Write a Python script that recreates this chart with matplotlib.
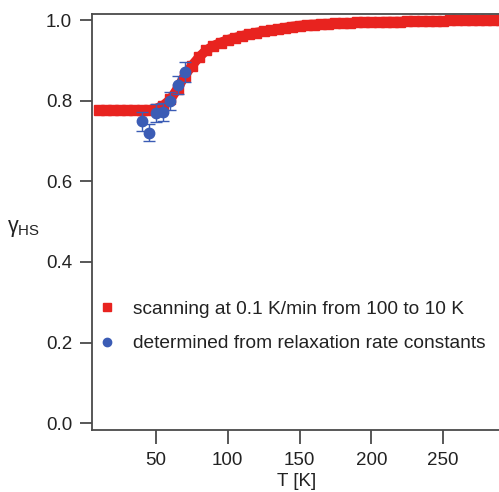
"""Spin-crossover HS fraction vs temperature: scan vs relaxation constants."""

import matplotlib

matplotlib.use("Agg")
import matplotlib.pyplot as plt
from matplotlib.ticker import FormatStrFormatter

plt.rcParams["font.family"] = ["Liberation Sans", "DejaVu Sans"]
plt.rcParams["mathtext.fontset"] = "custom"
plt.rcParams["mathtext.rm"] = "Liberation Sans"

# scanning at 0.1 K/min (every 5 K)
scan_temp = list(range(10, 295, 5))
scan_gamma = [
    0.776, 0.776, 0.776, 0.776, 0.776, 0.776, 0.776, 0.777, 0.780, 0.788,
    0.803, 0.830, 0.862, 0.887, 0.908, 0.925, 0.936, 0.944, 0.951, 0.956,
    0.961, 0.965, 0.969, 0.972, 0.975, 0.978, 0.981, 0.984, 0.986, 0.988,
    0.989, 0.990, 0.991, 0.992, 0.993, 0.993, 0.994, 0.994, 0.995, 0.995,
    0.996, 0.996, 0.996, 0.997, 0.997, 0.997, 0.998, 0.998, 0.998, 0.999,
    0.999, 0.999, 1.000, 1.000, 1.000, 1.000, 1.000,
]

# values from relaxation rate constants
relax_temp = [40, 45, 50, 55, 60, 65, 70]
relax_gamma = [0.749, 0.720, 0.770, 0.772, 0.800, 0.839, 0.871]
relax_err = [0.023, 0.021, 0.022, 0.022, 0.022, 0.023, 0.025]

red = "#e8231f"
blue = "#3b5cb5"
spine = "#4a4a4a"
ink = "#222222"

fig = plt.figure(figsize=(4.99, 4.92), dpi=100)
ax = fig.add_axes([0.184, 0.126, 0.822, 0.8455])

ax.plot(scan_temp, scan_gamma, color=red, lw=7, marker="s", ms=7.5,
        mec=red, mfc=red, solid_capstyle="butt", zorder=2,
        label="scanning at 0.1 K/min from 100 to 10 K")
ax.errorbar(relax_temp, relax_gamma, yerr=relax_err, fmt="o", color=blue,
            ms=7.5, elinewidth=1.0, capsize=4.5, capthick=1.0, zorder=3,
            label="determined from relaxation rate constants")

ax.set_xlim(5.3, 291)
ax.set_ylim(-0.017, 1.015)
ax.set_xticks([50, 100, 150, 200, 250])
ax.set_yticks([0.0, 0.2, 0.4, 0.6, 0.8, 1.0])
ax.yaxis.set_major_formatter(FormatStrFormatter("%.1f"))

ax.spines["right"].set_visible(False)
for side in ("left", "bottom", "top"):
    ax.spines[side].set_color(spine)
    ax.spines[side].set_linewidth(1.3)
ax.tick_params(direction="out", width=1.3, color=spine,
               labelsize=13.5, labelcolor=ink)
ax.tick_params(axis="x", length=10, pad=6)
ax.tick_params(axis="y", length=8.6, pad=5.5)

ax.set_xlabel("T [K]", fontsize=13.5, color=ink, labelpad=3)
ax.set_ylabel("γ$_\\mathrm{HS}$", fontsize=15.5, color=ink,
              rotation=0, ha="left", va="center")
ax.yaxis.set_label_coords(-0.207, 0.485)

labels = ax.get_legend_handles_labels()[1]
legend_handles = [
    plt.Line2D([], [], ls="none", marker="s", ms=6, color=red),
    plt.Line2D([], [], ls="none", marker="o", ms=6, color=blue),
]
ax.legend(legend_handles, labels, loc="lower left",
          bbox_to_anchor=(-0.005, 0.168), frameon=False, fontsize=13.8,
          handlelength=1.0, handletextpad=0.85, labelspacing=0.9,
          borderaxespad=0.0, labelcolor=ink)

fig.savefig("out.png", dpi=100)
